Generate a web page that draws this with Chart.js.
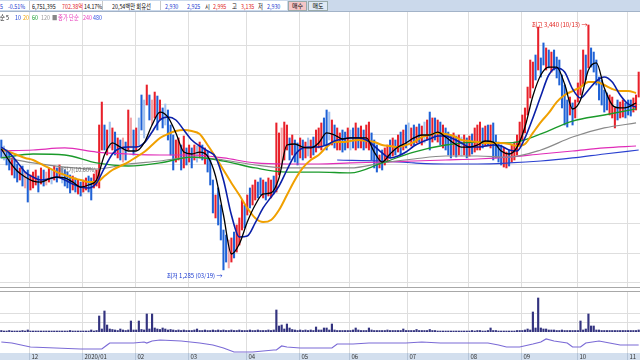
<!DOCTYPE html>
<html>
<head>
<meta charset="utf-8">
<script src="https://cdn.jsdelivr.net/npm/chart.js@4/dist/chart.umd.min.js"></script>
<style>
body{margin:0;width:640px;height:360px;overflow:hidden;background:#fff;position:relative;font-family:"Noto Sans CJK KR",sans-serif}
canvas{position:absolute;left:0}
.t{position:absolute;font-size:6.5px;line-height:10px;white-space:nowrap;display:inline-block;transform:scaleX(0.82);transform-origin:0 0}
#bar{position:absolute;left:0;top:0;width:640px;height:11px;background:#cbd9eb;border-bottom:1px solid #a3b3c8}
#inner{position:absolute;left:0;top:1px;width:287px;height:9px;background:#fff}
.sep{position:absolute;top:1px;width:1px;height:9px;background:#c8c8c8}
.btn{position:absolute;top:1px;height:8px;font-size:6px;line-height:8px;text-align:center;border:1px solid #9aa}
.hl{position:absolute;left:0;width:640px;height:1px;background:#a8a8a8}
.lg{position:absolute;top:12px;font-size:6.5px;line-height:10px;white-space:nowrap;display:inline-block;transform:scaleX(0.82);transform-origin:0 0}
</style>
</head>
<body>
<div id="bar">
  <div id="inner"></div>
  <div class="sep" style="left:29px"></div>
  <div class="sep" style="left:102px"></div>
  <div class="sep" style="left:160px"></div>
  <span class="t" style="left:0;top:1px;color:#1a3ad0">5</span>
  <span class="t" style="left:8px;top:1px;color:#1a3ad0">-0.51%</span>
  <span class="t" style="left:32px;top:1px;color:#111">6,751,395</span>
  <span class="t" style="left:62px;top:1px;color:#e0201c">702.38억</span>
  <span class="t" style="left:84px;top:1px;color:#111">14.17%</span>
  <span class="t" style="left:112px;top:1px;color:#111">20,54백만 회유선</span>
  <span class="t" style="left:165px;top:1px;color:#1a3ad0">2,930</span>
  <span class="t" style="left:187px;top:1px;color:#1a3ad0">2,925</span>
  <span class="t" style="left:205px;top:1px;color:#111">시</span>
  <span class="t" style="left:213px;top:1px;color:#e0201c">2,995</span>
  <span class="t" style="left:232px;top:1px;color:#111">고</span>
  <span class="t" style="left:241px;top:1px;color:#e0201c">3,135</span>
  <span class="t" style="left:258px;top:1px;color:#111">저</span>
  <span class="t" style="left:267px;top:1px;color:#1a3ad0">2,930</span>
  <div class="btn" style="left:288px;width:17px;background:#f5c6c6">매수</div>
  <div class="btn" style="left:308px;width:18px;background:#dfe9f5">매도</div>
</div>

<canvas id="main" width="640" height="275" style="top:12px"></canvas>
<canvas id="vol" width="640" height="41" style="top:291px"></canvas>
<canvas id="ind" width="640" height="27" style="top:333px"></canvas>
<div class="hl" style="top:287px"></div>
<div class="hl" style="top:291px"></div>

<span class="lg" style="left:0;color:#111">순 5</span>
<span class="lg" style="left:15px;color:#1c3fd4">10</span>
<span class="lg" style="left:23px;color:#f0a000">20</span>
<span class="lg" style="left:32px;color:#18a030">60</span>
<span class="lg" style="left:41px;color:#999">120</span>
<span class="lg" style="left:52px;color:#888">■</span>
<span class="lg" style="left:58px;color:#e83cbc">종가 단순</span>
<span class="lg" style="left:83px;color:#e83cbc">240</span>
<span class="lg" style="left:93px;color:#3050e0">480</span>

<script>
// daily candles (price, won), one per trading day
var highs = [2428,2375,2340,2322,2270,2252,2217,2182,2199,2146,
  2164,2120,2146,2164,2111,2182,2164,2146,2182,2164,
  2199,2182,2208,2182,2164,2146,2120,2111,2094,2076,
  2058,2076,2094,2111,2094,2129,2164,2560,2762,2560,
  2516,2586,2534,2498,2446,2428,2446,2410,2692,2622,
  2516,2534,2622,2824,2780,2912,2824,2780,2850,2815,
  2780,2710,2745,2692,2560,2472,2428,2446,2384,2463,
  2358,2384,2358,2384,2375,2410,2384,2358,2322,2252,
  2076,1944,2006,1856,1636,1592,1548,1566,1618,1680,
  1742,1900,1856,1944,2006,2032,2076,2058,2094,2076,
  2058,2094,2076,2111,2578,2490,2534,2586,2560,2446,
  2472,2428,2402,2446,2428,2410,2446,2428,2454,2516,
  2534,2578,2622,2692,2674,2604,2560,2534,2490,2516,
  2498,2534,2516,2534,2578,2534,2551,2516,2560,2586,
  2490,2428,2384,2296,2340,2358,2384,2428,2446,2428,
  2472,2498,2516,2560,2578,2534,2560,2542,2569,2551,
  2586,2604,2674,2622,2622,2604,2586,2560,2534,2498,
  2472,2490,2463,2472,2454,2472,2446,2463,2481,2534,
  2560,2586,2534,2551,2560,2560,2578,2472,2410,2384,
  2358,2322,2340,2384,2410,2472,2586,2648,2710,2894,
  3132,3114,3176,3422,3150,3282,3238,3220,3202,3220,
  3158,3132,3000,2912,2780,2806,2754,2780,2930,3044,
  3220,3176,3440,3238,3202,3132,2982,2956,2868,2842,
  2824,2806,2710,2780,2762,2780,2754,2780,2780,2798,
  2824,3026];
var lows = [2270,2252,2208,2164,2120,2094,2058,2076,2023,2006,
  1882,1988,2006,2032,1970,2041,2023,2032,2058,2041,
  2076,2058,2094,2050,2023,2006,1962,1988,1970,1953,
  1935,1970,1988,1970,1900,2006,2023,2006,2340,2340,
  2296,2358,2340,2296,2270,2252,2234,2252,2340,2358,
  2296,2340,2384,2516,2446,2736,2604,2560,2622,2516,
  2604,2534,2560,2428,2296,2164,2234,2252,2164,2182,
  2208,2234,2182,2252,2234,2270,2252,2217,2146,2032,
  1786,1742,1680,1548,1285,1354,1302,1354,1390,1442,
  1504,1636,1654,1768,1830,1856,1900,1918,1944,1918,
  1900,1935,1918,1953,1970,2120,2182,2252,2340,2252,
  2296,2234,2208,2270,2252,2270,2287,2270,2296,2322,
  2358,2340,2384,2340,2428,2384,2358,2340,2340,2322,
  2340,2358,2340,2358,2340,2358,2358,2340,2358,2340,
  2252,2182,2146,2182,2164,2208,2234,2270,2287,2296,
  2322,2296,2340,2358,2384,2375,2384,2402,2410,2384,
  2402,2428,2340,2410,2428,2410,2384,2358,2340,2296,
  2270,2296,2278,2296,2287,2296,2270,2287,2305,2322,
  2340,2340,2358,2375,2384,2358,2252,2270,2234,2208,
  2190,2182,2199,2234,2252,2296,2384,2428,2490,2648,
  2798,2886,2956,3044,2982,3088,3044,3062,3026,3044,
  2974,2912,2710,2560,2542,2648,2560,2622,2762,2824,
  2912,2956,3062,3070,3026,2912,2780,2736,2674,2692,
  2648,2622,2534,2604,2622,2630,2622,2648,2639,2674,
  2692,2806];
// U up, D down, u/d pale
var dirs = "DdDDUDDUDu" + "DUUUDUDuUd" + "UDUdDDDUDU" + "DUUDDUUUUD" + "UdUDUDuDUu" +
  "DUdDdUDuUD" + "UDdDDDUUDU" + "DUDUdUDUDD" + "DUDDDDuUDU" + "UUDUDUUDDU" +
  "DUUDUUuUUD" + "UDDUDUdUDU" + "UUDDdUDUUD" + "DUdDUDUDUU" + "DDDUDUUDUD" +
  "UDUDdUDUDU" + "dUDUDUDUDD" + "DUDUdUDUDU" + "UUDUDUDDDD" + "UUDUUUUUUU" +
  "UUDUDDUDUD" + "DDDDDUDUUU" + "UDUDDDDDDD" + "UUUDUUDDDU" + "UU";
// volume, millions of shares
var volumes = [1.5,1,1,1.5,1,1,1,1,1.5,1,
  2,1,1,1,1,1,1,1,1,1,
  1,1,1,1,1,1,1.5,1,1,1,
  1,1,1,1,2,1,1.5,16,3,21,
  7,3,2.5,2,1.5,3,2,1.5,2,11,
  2,2,11,2.5,2,18,3,18,4,3,
  2.5,4,3,2,2.5,2,1.5,2,1.5,2,
  1.5,1.5,1.5,2,3,1.5,1.5,2,1.5,1.5,
  2,1.5,2,1.5,2,1.5,1.5,2,1.5,1.5,
  2,1.5,1.5,1.5,2,1.5,1.5,2,1.5,1.5,
  1.5,2,1.5,2,22,6,7,3,8,4,
  2.5,2,1.5,2,1.5,2,1.5,2,1.5,5,
  2,2,4,4,2,8,2,1.5,1.5,1.5,
  1.5,1.5,1.5,2,4,2,1.5,1.5,1.5,4,
  2,1.5,1.5,1.5,1.5,1.5,2,1.5,1.5,1.5,
  1.5,1.5,3,1.5,1.5,1.5,1.5,2.5,1.5,1.5,
  1.5,1.5,2.5,1.5,1.5,1,1,1,1,1,
  1,1,1,1,1,1,1,1,1.5,1,
  1.5,1.5,1,1,1.5,4,1.5,1.5,1,1,
  1,1,1,1,1,1.5,1.5,1.5,2,3,
  2,20,4,34,4,3,3,2,2,2,
  1.5,1.5,2,1.5,1.5,1.5,1.5,1.5,1.5,11,
  2,3,18,6,6,2,2,1.5,1.5,1.5,
  1.5,1.5,1.5,1.5,1.5,1.5,1.5,1.5,1.5,1.5,
  1.5,2];

// moving averages, read every 3rd day (fast) / every 12th day (slow)
var fastIdx = [];
for (var k = 0; k <= 240; k += 3) fastIdx.push(k);
var slowIdx = [];
for (var k = 0; k <= 240; k += 12) slowIdx.push(k);

var ma5 = [2350,2243,2155,2102,2067,2058,2085,2102,2094,2058,2014,2032,2076,2296,2402,2366,2331,2331,2402,2560,2674,2630,2490,2322,2305,2322,2287,2111,1768,1425,1513,1706,1856,1953,1962,2094,2384,2393,2366,2358,2402,2490,2472,2437,2446,2446,2446,2322,2234,2305,2366,2402,2446,2472,2472,2498,2454,2402,2366,2366,2384,2419,2410,2331,2305,2366,2542,2815,3000,3070,3070,2921,2701,2780,3044,3106,2886,2736,2710,2718,2754];
var ma10 = [2366,2314,2234,2146,2102,2076,2085,2102,2076,2041,2014,2006,2050,2182,2305,2358,2366,2366,2402,2498,2604,2630,2604,2516,2428,2375,2331,2278,2076,1768,1574,1583,1698,1830,1926,2023,2164,2296,2358,2366,2366,2384,2419,2437,2446,2446,2428,2375,2314,2270,2287,2322,2375,2410,2437,2463,2463,2437,2402,2366,2366,2375,2384,2375,2340,2331,2446,2622,2815,3000,3062,3026,2877,2798,2868,2947,2982,2938,2824,2745,2718];
var ma20 = [2350,2322,2296,2270,2252,2217,2182,2146,2120,2094,2076,2058,2058,2111,2164,2199,2234,2278,2322,2384,2446,2481,2507,2516,2507,2481,2384,2278,2164,2050,1944,1830,1742,1706,1724,1812,1944,2076,2182,2252,2296,2366,2410,2410,2419,2428,2419,2410,2384,2375,2366,2384,2410,2454,2472,2490,2481,2463,2428,2419,2410,2402,2402,2402,2393,2375,2393,2490,2586,2666,2762,2824,2859,2894,2938,2938,2912,2877,2859,2859,2842];
var ma60 = [2270,2305,2296,2226,2199,2226,2278,2243,2182,2146,2146,2138,2226,2322,2384,2410,2402,2481,2595,2648,2701];
var ma120 = [2278,2226,2190,2173,2217,2243,2278,2252,2208,2182,2182,2182,2226,2261,2287,2287,2278,2340,2454,2534,2578];
var ma240 = [2331,2340,2358,2322,2305,2296,2296,2270,2226,2217,2217,2226,2234,2243,2252,2261,2278,2305,2331,2358,2375];
var ma480Idx = [127,144,156,168,180,192,204,216,228,241];
var ma480 = [2252,2243,2226,2217,2217,2226,2243,2270,2305,2340];

// lower indicator line
var lineIdx = [0,4,11,30,38,40,41,50,54,55,57,60,68,75,80,84,88,95,103,104,106,108,113,125,127,133,139,153,159,166,176,184,188,191,196,201,204,206,209,214,216,219,221,226,230,234,241];
var lineVals = [50,45,25,15,15,35,45,45,50,45,55,60,55,45,35,20,0,0,10,10,30,25,20,20,40,40,45,45,50,45,45,45,35,25,25,40,50,65,55,45,25,25,45,55,45,35,35];

// month ticks
var monthStart = [11,31,51,71,93,113,132,154,177,197,218,237];
var monthLabels = ["12","2020/01","02","03","04","05","06","07","08","09","10","11"];
var hiDate = "10/13", loDate = "03/19";
var buyNote = "매입가(10.60%)";

var candleColors = {U: '#e8202a', D: '#1f62d6', u: '#f3a3a6', d: '#9fc0ee'};
var FONT = '"Noto Sans CJK KR", sans-serif';

function pts(idx, vals) {
    return idx.map(function (x, k) { return {x: x, y: vals[k]}; });
}
function comma(v) {
    return String(v).replace(/\B(?=(\d{3})+(?!\d))/g, ',');
}
function maLine(idx, vals, color, width, order) {
    return {type: 'line', data: pts(idx, vals), borderColor: color, borderWidth: width,
        pointRadius: 0, cubicInterpolationMode: 'monotone', order: order};
}

// vertical month lines + horizontal lines for each panel
var panelGrid = {
    id: 'panelGrid',
    beforeDatasetsDraw: function (chart, args, opts) {
        var ctx = chart.ctx, a = chart.chartArea, x = chart.scales.x, y = chart.scales.y;
        ctx.save();
        ctx.strokeStyle = '#dedede';
        ctx.lineWidth = 1;
        ctx.beginPath();
        (opts.yLines || []).forEach(function (v) {
            var py = Math.round(y.getPixelForValue(v)) + 0.5;
            ctx.moveTo(a.left, py); ctx.lineTo(a.right, py);
        });
        monthStart.forEach(function (m) {
            var px = Math.round(x.getPixelForValue(m - 0.5)) + 0.5;
            ctx.moveTo(px, a.top); ctx.lineTo(px, a.bottom);
        });
        ctx.stroke();
        ctx.restore();
    }
};

// high / low notes on the price panel
var marks = {
    id: 'marks',
    afterDatasetsDraw: function (chart) {
        var ctx = chart.ctx, x = chart.scales.x, y = chart.scales.y;
        var hiI = 0, loI = 0;
        highs.forEach(function (h, i) { if (h > highs[hiI]) hiI = i; });
        lows.forEach(function (l, i) { if (l < lows[loI]) loI = i; });
        ctx.save();
        ctx.font = '6px ' + FONT;
        ctx.textAlign = 'right';
        ctx.textBaseline = 'middle';
        ctx.fillStyle = '#e0201c';
        ctx.fillText('최고 ' + comma(highs[hiI]) + ' (' + hiDate + ') →', x.getPixelForValue(hiI) - 1, y.getPixelForValue(highs[hiI]));
        ctx.fillStyle = '#1a3ad0';
        ctx.fillText('최저 ' + comma(lows[loI]) + ' (' + loDate + ') →', x.getPixelForValue(loI) - 1, y.getPixelForValue(lows[loI]) + 6);
        ctx.textAlign = 'left';
        ctx.fillStyle = '#666';
        ctx.font = '5.5px ' + FONT;
        ctx.fillText(buyNote, x.getPixelForValue(21.5), y.getPixelForValue(2164));
        ctx.restore();
    }
};

// date strip under the last panel
var monthAxis = {
    id: 'monthAxis',
    afterDraw: function (chart) {
        var ctx = chart.ctx, a = chart.chartArea, x = chart.scales.x;
        ctx.save();
        ctx.fillStyle = '#d3dfee';
        ctx.fillRect(0, a.bottom, chart.width, chart.height - a.bottom);
        ctx.strokeStyle = '#b4c4d8';
        ctx.font = '6px ' + FONT;
        ctx.textBaseline = 'middle';
        monthStart.forEach(function (m, k) {
            var px = Math.round(x.getPixelForValue(m - 0.5)) + 0.5;
            ctx.beginPath(); ctx.moveTo(px, a.bottom); ctx.lineTo(px, chart.height); ctx.stroke();
            ctx.fillStyle = '#333';
            ctx.fillText(monthLabels[k], px + 2, a.bottom + 4);
        });
        ctx.restore();
    }
};

function baseOptions(ymin, ymax, yLines, pad) {
    return {
        responsive: false, animation: false, devicePixelRatio: 1,
        layout: {padding: pad || 0},
        plugins: {legend: {display: false}, tooltip: {enabled: false}, panelGrid: {yLines: yLines}},
        scales: {
            x: {type: 'linear', min: -0.5, max: highs.length - 0.5, offset: false, display: false},
            y: {min: ymin, max: ymax, display: false}
        }
    };
}

var priceLines = [];
for (var v = 3264; v > 1134; v -= 261) priceLines.push(v);

new Chart(document.getElementById('main'), {
    type: 'bar',
    data: {
        datasets: [
            {type: 'bar', data: highs.map(function (h, i) { return {x: i, y: [lows[i], h]}; }),
                backgroundColor: dirs.split('').map(function (c) { return candleColors[c]; }),
                barThickness: 1.4, order: 10},
            maLine(ma480Idx, ma480, '#2a40d0', 1.2, 7),
            maLine(slowIdx, ma240, '#e02cb8', 1.2, 6),
            maLine(slowIdx, ma120, '#8a8a8a', 1.2, 5),
            maLine(slowIdx, ma60, '#1a9a2a', 1.3, 4),
            maLine(fastIdx, ma20, '#f0a000', 2, 3),
            maLine(fastIdx, ma10, '#0a1fa8', 1.6, 2),
            maLine(fastIdx, ma5, '#000000', 1.3, 1)
        ]
    },
    options: baseOptions(1134.4, 3554.4, priceLines),
    plugins: [panelGrid, marks]
});

new Chart(document.getElementById('vol'), {
    type: 'bar',
    data: {
        datasets: [{data: volumes.map(function (v, i) { return {x: i, y: v}; }),
            backgroundColor: '#33337f', barThickness: 1.5}]
    },
    options: baseOptions(0, 41, [0, 10, 19]),
    plugins: [panelGrid]
});

new Chart(document.getElementById('ind'), {
    type: 'line',
    data: {
        datasets: [{data: pts(lineIdx, lineVals), borderColor: '#7b6bd6', borderWidth: 1.2,
            pointRadius: 0, tension: 0}]
    },
    options: baseOptions(-5, 95, [], {bottom: 7}),
    plugins: [panelGrid, monthAxis]
});
</script>
</body>
</html>
